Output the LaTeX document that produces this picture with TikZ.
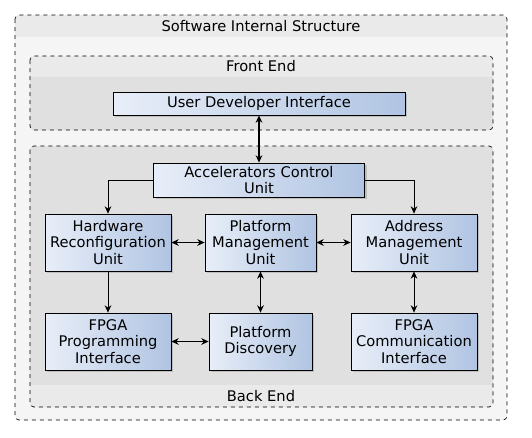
\documentclass[tikz,border=0pt]{standalone}
\usepackage{fontspec}
\setmainfont{DejaVu Sans}
\usepackage{tikz}
\usetikzlibrary{shadows,arrows.meta}

\definecolor{bandgray}{RGB}{234,234,234}
\definecolor{outergray}{RGB}{245,245,245}
\definecolor{innergray}{RGB}{224,224,224}
\definecolor{unitleft}{RGB}{232,238,248}
\definecolor{unitright}{RGB}{176,196,226}

\tikzset{
  unit/.style={draw=black, line width=0.6pt, left color=unitleft, right color=unitright,
    drop shadow={shadow xshift=1.5pt, shadow yshift=-1.5pt, opacity=0.35},
    align=center, inner sep=1pt, font=\fontsize{11}{12.5}\selectfont},
  group/.style={draw=black, dashed, line width=0.5pt, rounded corners=3pt},
  grouplabel/.style={font=\fontsize{11}{13}\selectfont},
  link/.style={-{Stealth[length=5.5pt,width=5pt]}, line width=0.6pt},
  duallink/.style={{Stealth[length=5.5pt,width=5pt]}-{Stealth[length=5.5pt,width=5pt]}, line width=0.6pt},
}

\begin{document}
\begin{tikzpicture}[x=0.75pt,y=0.75pt,yscale=-1,xscale=1]
\useasboundingbox (0,0) rectangle (532,437);

%Shape: Group [Software Internal Structure]
\fill [outergray, rounded corners=3pt] (15,15) rectangle (507,420) ;
\begin{scope}
\clip [rounded corners=3pt] (15,15) rectangle (507,420) ;
\fill [bandgray] (15,15) rectangle (507,37) ;
\end{scope}
\draw [group] (15,15) rectangle (507,420) ;
\node [grouplabel] (title) at (261,26) {Software Internal Structure};

%Shape: Group [Front End]
\fill [innergray, rounded corners=3pt] (30,56) rectangle (493,130) ;
\begin{scope}
\clip [rounded corners=3pt] (30,56) rectangle (493,130) ;
\fill [bandgray] (30,56) rectangle (493,77) ;
\end{scope}
\draw [group] (30,56) rectangle (493,130) ;
\node [grouplabel] (front) at (261,66.5) {Front End};

%Shape: Group [Back End]
\fill [innergray, rounded corners=3pt] (30,146) rectangle (493,407) ;
\begin{scope}
\clip [rounded corners=3pt] (30,146) rectangle (493,407) ;
\fill [bandgray] (30,385) rectangle (493,407) ;
\end{scope}
\draw [group] (30,146) rectangle (493,407) ;
\node [grouplabel] (back) at (261,396) {Back End};

%Shape: Units
\node [unit, minimum width=292*0.75pt, minimum height=23*0.75pt] (udi) at (259,103.5) {User Developer Interface};
\node [unit, minimum width=211*0.75pt, minimum height=34*0.75pt] (acu) at (259,180) {Accelerators Control\\Unit};
\node [unit, minimum width=126*0.75pt, minimum height=57*0.75pt] (hru) at (108,242.5) {Hardware\\Reconfiguration\\Unit};
\node [unit, minimum width=111*0.75pt, minimum height=57*0.75pt] (pmu) at (260.5,242.5) {Platform\\Management\\Unit};
\node [unit, minimum width=126*0.75pt, minimum height=57*0.75pt] (amu) at (414,242.5) {Address\\Management\\Unit};
\node [unit, minimum width=126*0.75pt, minimum height=57*0.75pt] (fpi) at (108,341.5) {FPGA\\Programming\\Interface};
\node [unit, minimum width=103*0.75pt, minimum height=57*0.75pt] (pd) at (260.5,341.5) {Platform\\Discovery};
\node [unit, minimum width=126*0.75pt, minimum height=57*0.75pt] (fci) at (414,341.5) {FPGA\\Communication\\Interface};

%Straight Lines
\draw [duallink, line width=1.4pt] (udi.south) -- (acu.north) ;
\draw [link] (acu.west) -| (hru.north) ;
\draw [link] (acu.east) -| (amu.north) ;
\draw [duallink] (hru.east) -- (pmu.west) ;
\draw [duallink] (pmu.east) -- (amu.west) ;
\draw [link] (hru.south) -- (fpi.north) ;
\draw [duallink] (pmu.south) -- (pd.north) ;
\draw [duallink] (amu.south) -- (fci.north) ;
\draw [duallink] (fpi.east) -- (pd.west) ;

\end{tikzpicture}
\end{document}
